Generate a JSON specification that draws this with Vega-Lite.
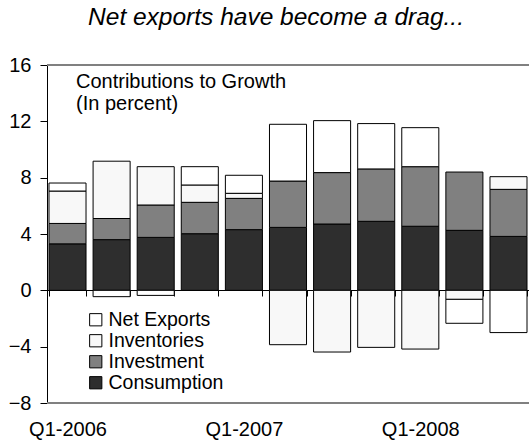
{
  "$schema": "https://vega.github.io/schema/vega-lite/v6.json",
  "width": 482,
  "height": 338,
  "autosize": {"type": "none"},
  "padding": {"left": 47, "top": 65, "right": 0, "bottom": 42},
  "config": {
    "font": "Liberation Sans",
    "view": {"stroke": null},
    "axis": {"labelFontSize": 19, "labelColor": "black", "tickColor": "black", "domainColor": "black", "grid": false, "title": null, "labelFont": "Liberation Sans"},
    "legend": {"labelFont": "Liberation Sans"}
  },
  "title": {"text": "Net exports have become a drag...", "fontStyle": "italic", "fontWeight": "normal", "fontSize": 24.5, "frame": "group", "anchor": "middle", "baseline": "alphabetic", "offset": 6, "dx": -12, "color": "black", "font": "Liberation Sans"},
  "datasets": {
    "components": [
      {"component": "Consumption", "stackOrder": 1},
      {"component": "Investment", "stackOrder": 2},
      {"component": "Inventories", "stackOrder": 3},
      {"component": "Net Exports", "stackOrder": 4}
    ]
  },
  "data": {"values": [
    {"quarter": "Q1-2006", "component": "Consumption", "value": 3.3},
    {"quarter": "Q1-2006", "component": "Investment", "value": 1.45},
    {"quarter": "Q1-2006", "component": "Inventories", "value": 2.3},
    {"quarter": "Q1-2006", "component": "Net Exports", "value": 0.57},
    {"quarter": "Q2-2006", "component": "Consumption", "value": 3.6},
    {"quarter": "Q2-2006", "component": "Investment", "value": 1.5},
    {"quarter": "Q2-2006", "component": "Inventories", "value": 4.07},
    {"quarter": "Q2-2006", "component": "Net Exports", "value": -0.45},
    {"quarter": "Q3-2006", "component": "Consumption", "value": 3.76},
    {"quarter": "Q3-2006", "component": "Investment", "value": 2.3},
    {"quarter": "Q3-2006", "component": "Inventories", "value": 2.72},
    {"quarter": "Q3-2006", "component": "Net Exports", "value": -0.36},
    {"quarter": "Q4-2006", "component": "Consumption", "value": 4.02},
    {"quarter": "Q4-2006", "component": "Investment", "value": 2.23},
    {"quarter": "Q4-2006", "component": "Inventories", "value": 1.23},
    {"quarter": "Q4-2006", "component": "Net Exports", "value": 1.3},
    {"quarter": "Q1-2007", "component": "Consumption", "value": 4.31},
    {"quarter": "Q1-2007", "component": "Investment", "value": 2.22},
    {"quarter": "Q1-2007", "component": "Inventories", "value": 0.36},
    {"quarter": "Q1-2007", "component": "Net Exports", "value": 1.28},
    {"quarter": "Q2-2007", "component": "Consumption", "value": 4.47},
    {"quarter": "Q2-2007", "component": "Investment", "value": 3.29},
    {"quarter": "Q2-2007", "component": "Inventories", "value": -3.86},
    {"quarter": "Q2-2007", "component": "Net Exports", "value": 4.03},
    {"quarter": "Q3-2007", "component": "Consumption", "value": 4.71},
    {"quarter": "Q3-2007", "component": "Investment", "value": 3.65},
    {"quarter": "Q3-2007", "component": "Inventories", "value": -4.38},
    {"quarter": "Q3-2007", "component": "Net Exports", "value": 3.69},
    {"quarter": "Q4-2007", "component": "Consumption", "value": 4.9},
    {"quarter": "Q4-2007", "component": "Investment", "value": 3.72},
    {"quarter": "Q4-2007", "component": "Inventories", "value": -4.05},
    {"quarter": "Q4-2007", "component": "Net Exports", "value": 3.22},
    {"quarter": "Q1-2008", "component": "Consumption", "value": 4.55},
    {"quarter": "Q1-2008", "component": "Investment", "value": 4.23},
    {"quarter": "Q1-2008", "component": "Inventories", "value": -4.17},
    {"quarter": "Q1-2008", "component": "Net Exports", "value": 2.77},
    {"quarter": "Q2-2008", "component": "Consumption", "value": 4.26},
    {"quarter": "Q2-2008", "component": "Investment", "value": 4.14},
    {"quarter": "Q2-2008", "component": "Inventories", "value": -0.64},
    {"quarter": "Q2-2008", "component": "Net Exports", "value": -1.7},
    {"quarter": "Q3-2008", "component": "Consumption", "value": 3.83},
    {"quarter": "Q3-2008", "component": "Investment", "value": 3.34},
    {"quarter": "Q3-2008", "component": "Inventories", "value": 0.9},
    {"quarter": "Q3-2008", "component": "Net Exports", "value": -3.0}
  ]},
  "layer": [
    {
      "transform": [
        {"lookup": "component", "from": {"data": {"name": "components"}, "key": "component", "fields": ["stackOrder"]}}
      ],
      "mark": {"type": "bar", "stroke": "black", "strokeWidth": 1},
      "encoding": {
        "x": {"field": "quarter", "type": "nominal", "sort": null,
              "scale": {"paddingInner": 0.16, "paddingOuter": 0.045},
              "axis": {"orient": "bottom", "offset": -113, "labelAngle": 0, "labelFontSize": 20, "tickBand": "extent", "tickSize": 6, "labelPadding": 123, "labelExpr": "substring(datum.value, 0, 2) == 'Q1' ? datum.value : ''"}},
        "y": {"field": "value", "type": "quantitative", "stack": "zero",
              "scale": {"domain": [-8, 16], "nice": false},
              "axis": {"values": [-8, -4, 0, 4, 8, 12, 16], "tickSize": 7, "labelPadding": 9, "labelFontSize": 20}},
        "order": {"field": "stackOrder", "type": "quantitative", "sort": "ascending"},
        "color": {"field": "component", "type": "nominal",
                  "scale": {"domain": ["Net Exports", "Inventories", "Investment", "Consumption"], "range": ["#ffffff", "#f8f8f8", "#808080", "#2e2e2e"]},
                  "legend": {"title": null, "orient": "none", "legendX": 39, "legendY": 245, "labelFontSize": 19.5, "labelColor": "black", "symbolType": "square", "symbolSize": 150, "symbolStrokeColor": "black", "symbolStrokeWidth": 1, "rowPadding": 0, "labelOffset": 3, "symbolOpacity": 1}}
      }
    },
    {
      "data": {"values": [{}]},
      "mark": {"type": "rule", "color": "#808080", "strokeWidth": 2},
      "encoding": {"y": {"datum": 16}}
    },
    {
      "data": {"values": [{}]},
      "mark": {"type": "rule", "color": "#808080", "strokeWidth": 2},
      "encoding": {"y": {"datum": -8}}
    },
    {
      "data": {"values": [{}]},
      "mark": {"type": "text", "text": ["Contributions to Growth", "(In percent)"], "align": "left", "baseline": "alphabetic", "fontSize": 20, "lineHeight": 22, "dx": 27, "color": "black"},
      "encoding": {"x": {"datum": "Q1-2006", "bandPosition": 0}, "y": {"datum": 14.4}}
    }
  ]
}
